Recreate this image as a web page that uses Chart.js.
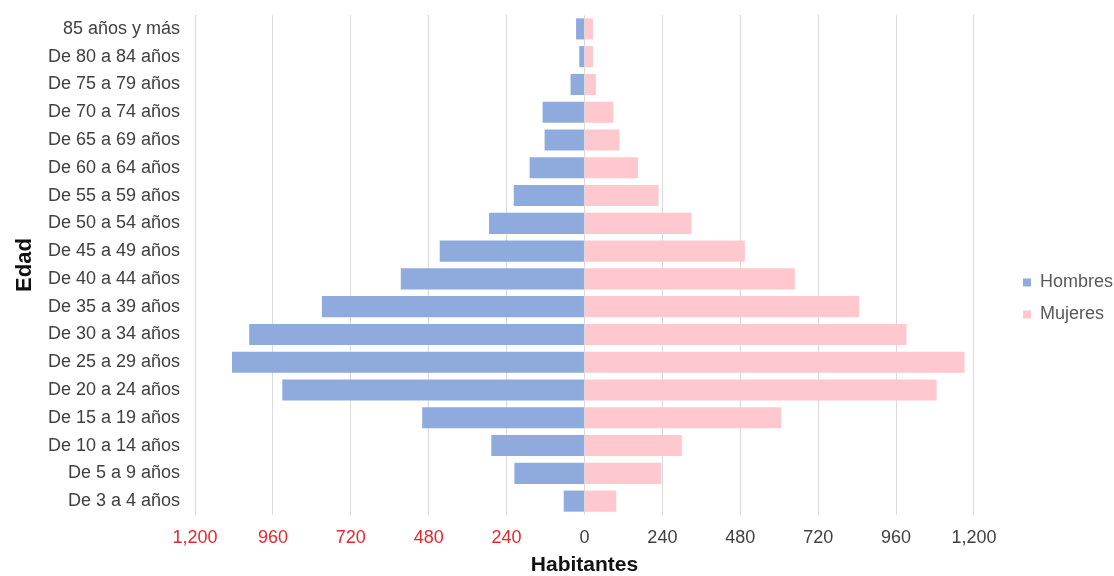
<!DOCTYPE html>
<html>
<head>
<meta charset="utf-8">
<script src="https://cdn.jsdelivr.net/npm/chart.js@4.4.0/dist/chart.umd.min.js"></script>
<style>
  html, body { margin: 0; padding: 0; background: #ffffff; }
  #wrap { width: 1114px; height: 576px; }
</style>
</head>
<body>
<div id="wrap"><canvas id="c" width="1114" height="576"></canvas></div>
<script>
const categories = [
  "85 años y más", "De 80 a 84 años", "De 75 a 79 años", "De 70 a 74 años",
  "De 65 a 69 años", "De 60 a 64 años", "De 55 a 59 años", "De 50 a 54 años",
  "De 45 a 49 años", "De 40 a 44 años", "De 35 a 39 años", "De 30 a 34 años",
  "De 25 a 29 años", "De 20 a 24 años", "De 15 a 19 años", "De 10 a 14 años",
  "De 5 a 9 años", "De 3 a 4 años"
];
const hombres = [26, 16, 43, 129, 123, 169, 218, 294, 446, 566, 809, 1033, 1086, 931, 500, 287, 216, 64];
const mujeres = [26, 26, 35, 89, 108, 165, 228, 330, 494, 648, 846, 992, 1171, 1085, 606, 300, 236, 98];
const xTicks = [-1200, -960, -720, -480, -240, 0, 240, 480, 720, 960, 1200];

const FONT = "'Liberation Sans', Arial, sans-serif";

const legendShift = {
  id: 'legendShift',
  afterLayout(chart) {
    const lg = chart.legend;
    if (lg) { lg.top += 3; lg.bottom += 3; lg.left += 35; lg.right += 35; }
  }
};

new Chart(document.getElementById('c'), {
  type: 'bar',
  data: {
    labels: categories,
    datasets: [
      { label: 'Hombres', data: hombres.map(v => -v), backgroundColor: '#8faadc', borderWidth: 0 },
      { label: 'Mujeres', data: mujeres, backgroundColor: '#ffc7ce', borderWidth: 0 }
    ]
  },
  options: {
    indexAxis: 'y',
    responsive: false,
    animation: false,
    devicePixelRatio: 1,
    layout: { padding: { top: 15, left: 0, right: 26, bottom: 0 } },
    datasets: { bar: { barPercentage: 0.76, categoryPercentage: 1.0 } },
    scales: {
      x: {
        stacked: true,
        min: -1200, max: 1200,
        afterBuildTicks(scale) { scale.ticks = xTicks.map(v => ({ value: v })); },
        afterFit(scale) { scale.height = 61; },
        grid: { color: '#d9d9d9', drawTicks: false, lineWidth: 1 },
        border: { display: false },
        ticks: {
          padding: 12,
          font: { family: FONT, size: 18 },
          color: (ctx) => (ctx.tick && ctx.tick.value < 0) ? '#e8262d' : '#404040',
          callback: (v) => Math.abs(v).toLocaleString('en-US'),
          maxRotation: 0
        },
        title: {
          display: true, text: 'Habitantes', color: '#111111',
          font: { family: FONT, size: 21, weight: 'bold', lineHeight: 1.0 },
          padding: { top: 6, bottom: 0 }
        }
      },
      y: {
        stacked: true,
        afterFit(scale) { scale.width = 195; scale.paddingTop = 0; scale.paddingBottom = 0; },
        grid: { display: false, drawTicks: false },
        border: { display: false },
        ticks: {
          padding: 15,
          font: { family: FONT, size: 18 },
          color: '#404040',
          autoSkip: false
        },
        title: {
          display: true, text: 'Edad', color: '#111111',
          font: { family: FONT, size: 22, weight: 'bold', lineHeight: 1.0 },
          padding: { top: 14, bottom: 0 }
        }
      }
    },
    plugins: {
      legend: {
        position: 'right',
        align: 'center',
        labels: {
          boxWidth: 8, boxHeight: 8,
          font: { family: FONT, size: 18 },
          color: '#595959',
          padding: 14
        }
      },
      tooltip: { enabled: false }
    }
  },
  plugins: [legendShift]
});
</script>
</body>
</html>
